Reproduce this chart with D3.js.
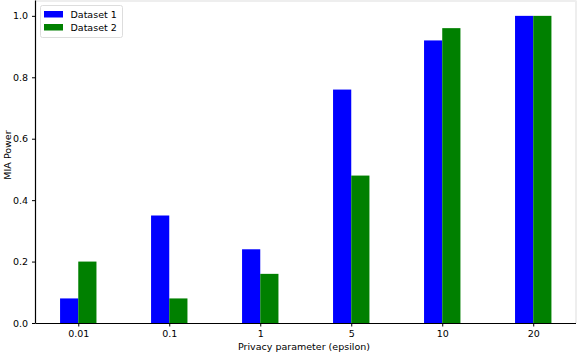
<!DOCTYPE html>
<html><head><meta charset="utf-8">
<script src="https://cdn.jsdelivr.net/npm/d3@7"></script>
<style>body{margin:0;background:#fff}svg{display:block}text{font-family:"DejaVu Sans",sans-serif;fill:#000}</style>
</head><body><svg id="c" width="578" height="352"></svg>
<script>
const categories = ["0.01","0.1","1","5","10","20"];
const dataset1 = [0.08,0.35,0.24,0.76,0.92,1.0];
const dataset2 = [0.20,0.08,0.16,0.48,0.96,1.0];
const seriesNames = ["Dataset 1","Dataset 2"];
const yTicks = [0,0.2,0.4,0.6,0.8,1.0];
const colors = ["#0000ff","#008000"];

const svg = d3.select("#c");
const L=35.5, R=576, T=0.5, B=323;
const x = d3.scaleLinear().domain([-0.47,5.47]).range([L,R]);
const y = d3.scaleLinear().domain([0,1.05]).range([B,T]);
const bw = x(0.2)-x(0);

// light frame top/right
svg.append("line").attr("x1",L).attr("x2",R).attr("y1",T+0.5).attr("y2",T+0.5).attr("stroke","#eeeeee").attr("stroke-width",2);
svg.append("line").attr("x1",R).attr("x2",R).attr("y1",T).attr("y2",B).attr("stroke","#eeeeee").attr("stroke-width",2);

const series=[dataset1,dataset2];
series.forEach((vals,si)=>{
  svg.append("g").selectAll("rect").data(vals).join("rect")
    .attr("x",(d,i)=>x(i+(si===0?-0.2:0)))
    .attr("width",bw)
    .attr("y",d=>y(d))
    .attr("height",d=>y(0)-y(d))
    .attr("fill",colors[si]);
});

const xAxis = d3.axisBottom(x).tickValues(d3.range(categories.length)).tickFormat(i=>categories[i]).tickSize(3.5).tickPadding(4);
const gx = svg.append("g").attr("transform",`translate(0,${B})`).call(xAxis);
gx.select(".domain").attr("d",`M${L},0.5H${R}`).attr("stroke","#000").attr("stroke-width",1.2);
gx.selectAll("text").style("font-size","9.5px");

const yAxis = d3.axisLeft(y).tickValues(yTicks).tickFormat(d3.format(".1f")).tickSize(3.5).tickPadding(4);
const gy = svg.append("g").attr("transform",`translate(${L},0)`).call(yAxis);
gy.select(".domain").attr("d",`M0,${T}V${B}`).attr("stroke","#000").attr("stroke-width",1.2);
gy.selectAll("text").style("font-size","9.5px");

svg.append("text").attr("x",304).attr("y",349.5).attr("text-anchor","middle").style("font-size","9.5px").text("Privacy parameter (epsilon)");
svg.append("text").attr("transform",`translate(11,155) rotate(-90)`).attr("text-anchor","middle").style("font-size","9.5px").text("MIA Power");

// legend
const lg = svg.append("g").attr("transform","translate(40.5,5.5)");
lg.append("rect").attr("width",82).attr("height",32).attr("rx",2).attr("fill","#fff").attr("fill-opacity",0.8).attr("stroke","#dddddd");
seriesNames.forEach((n,i)=>{
  lg.append("rect").attr("x",3.5).attr("y",5.5+i*13).attr("width",19).attr("height",6.5).attr("fill",colors[i]);
  lg.append("text").attr("x",30).attr("y",12.5+i*13).style("font-size","9.5px").text(n);
});
</script></body></html>
